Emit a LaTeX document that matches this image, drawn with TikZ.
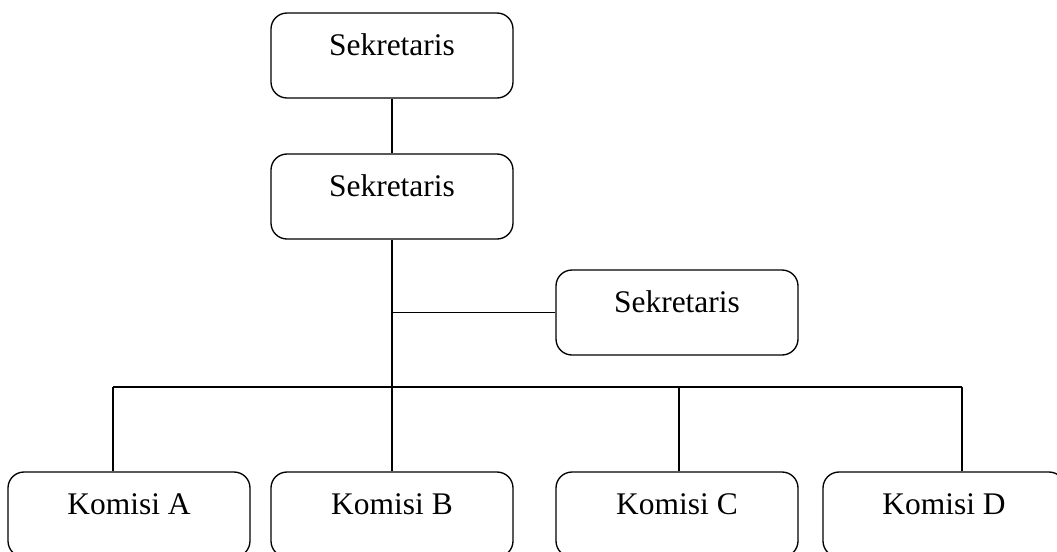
\documentclass[tikz,border=0pt]{standalone}
\usepackage{fontspec}
\setmainfont{Liberation Serif}
\begin{document}
\begin{tikzpicture}[x=0.75pt,y=-0.75pt,line width=1pt,
    box/.style={draw,rounded corners=12pt,minimum width=181.5pt,minimum height=63.75pt,
      inner ysep=16.5pt,text height=15.5pt,text depth=15.25pt,
      font=\fontsize{23.6}{28}\selectfont}]
  \clip (0,0) rectangle (1057,551);
  \node[box] (sek1) at (392,55.5) {Sekretaris};
  \node[box] (sek2) at (392,196.5) {Sekretaris};
  \node[box] (sek3) at (677,312.5) {Sekretaris};
  \foreach \l/\x in {A/129,B/392,C/677,D/944}
    \node[box] (kom\l) at (\x,514.5) {Komisi \l};
  \coordinate (busL) at (113,387);
  \coordinate (busR) at (962,387);
  \coordinate (busC) at (679,387);
  \draw (sek1) -- (sek2);
  \draw (sek2) -- (komB);
  \draw (sek3.west) -- (sek3.west -| sek2.south);
  \draw (busL) -- (busR);
  \foreach \c/\k in {busL/komA,busC/komC,busR/komD}
    \draw (\c) -- (\c |- \k.north);
\end{tikzpicture}
\end{document}
